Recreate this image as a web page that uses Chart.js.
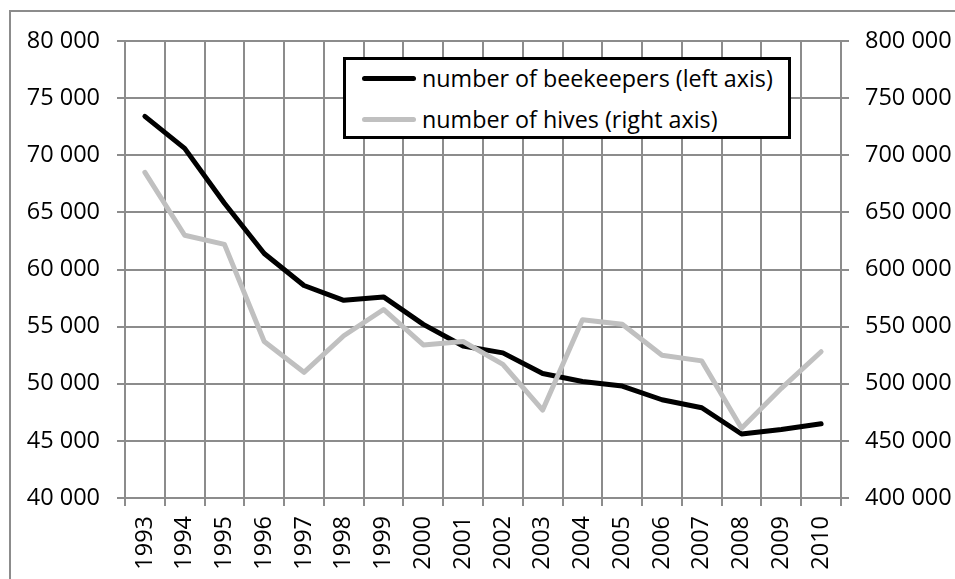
<!DOCTYPE html>
<html>
<head>
<meta charset="utf-8">
<script src="https://cdn.jsdelivr.net/npm/chart.js@4"></script>
<style>
    html, body { margin: 0; padding: 0; background: #fff; overflow: hidden; }
    #wrap { position: relative; width: 955px; height: 579px; }
    #frame {
        position: absolute; left: 9px; top: 10px; width: 980px; height: 600px;
        border: 2px solid #8c8c8c; box-sizing: border-box;
    }
    #chart { position: absolute; left: 0; top: 0; }
    #legend {
        position: absolute; left: 343px; top: 57px; width: 448px; height: 82px;
        border: 3px solid #000; box-sizing: border-box; background: #fff;
        font-family: "Open Sans", sans-serif; font-size: 23.3px; color: #000;
    }
    .row { position: absolute; left: 0; height: 30px; display: flex; align-items: center; white-space: nowrap; }
    .swatch { width: 54px; height: 5px; border-radius: 3px; margin-left: 16px; margin-right: 6px; }
</style>
</head>
<body>
<div id="wrap">
    <div id="frame"></div>
    <canvas id="chart" width="955" height="579"></canvas>
    <div id="legend">
        <div class="row" style="top: 3px;"><span class="swatch" style="background:#000"></span>number of beekeepers (left axis)</div>
        <div class="row" style="top: 44px;"><span class="swatch" style="background:#c0c0c0"></span>number of hives (right axis)</div>
    </div>
</div>
<script>
/* ---- DATA ---- */
const years = ['1993', '1994', '1995', '1996', '1997', '1998', '1999', '2000', '2001',
               '2002', '2003', '2004', '2005', '2006', '2007', '2008', '2009', '2010'];

const beekeepers = [73400, 70600, 65800, 61400, 58600, 57300, 57600, 55200, 53300,
                    52700, 50900, 50200, 49800, 48600, 47900, 45600, 46000, 46500];

const hives = [685000, 630000, 622000, 537000, 510000, 542000, 565000, 534000, 537000,
               517000, 477000, 556000, 552000, 525000, 520000, 461000, 496000, 528000];

const leftTicks = [40000, 45000, 50000, 55000, 60000, 65000, 70000, 75000, 80000];
const rightTicks = [400000, 450000, 500000, 550000, 600000, 650000, 700000, 750000, 800000];

const GRID = '#8c8c8c';
const FONT = { family: '"Open Sans", sans-serif', size: 23.5 };

function formatNum(v) {
    return String(v).replace(/\B(?=(\d{3})+(?!\d))/g, ' ');
}

/* ---- CHART ---- */
new Chart(document.getElementById('chart'), {
    type: 'line',
    data: {
        labels: years,
        datasets: [
            {
                label: 'number of hives (right axis)',
                data: hives,
                yAxisID: 'yR',
                borderColor: '#c0c0c0',
                borderWidth: 5,
                pointRadius: 0,
                tension: 0,
                borderCapStyle: 'round',
                borderJoinStyle: 'round'
            },
            {
                label: 'number of beekeepers (left axis)',
                data: beekeepers,
                yAxisID: 'yL',
                borderColor: '#000',
                borderWidth: 5,
                pointRadius: 0,
                tension: 0,
                borderCapStyle: 'round',
                borderJoinStyle: 'round'
            }
        ]
    },
    options: {
        responsive: false,
        animation: false,
        layout: { padding: { top: 41, left: 0, right: 0, bottom: 0 } },
        plugins: {
            legend: { display: false },
            tooltip: { enabled: false }
        },
        scales: {
            x: {
                offset: true,
                grid: { offset: true, color: GRID, lineWidth: 2, tickLength: 8 },
                border: { color: GRID, width: 2 },
                ticks: { color: '#000', font: FONT, maxRotation: 90, minRotation: 90, padding: 10, autoSkip: false },
                afterFit: s => { s.height = 81; }
            },
            yL: {
                position: 'left',
                min: 40000, max: 80000,
                afterBuildTicks: s => { s.ticks = leftTicks.map(v => ({ value: v })); },
                grid: { color: GRID, lineWidth: 2, tickLength: 8 },
                border: { color: GRID, width: 2 },
                ticks: { color: '#000', font: FONT, padding: 17, callback: v => formatNum(v) },
                afterFit: s => { s.width = 125; }
            },
            yR: {
                position: 'right',
                min: 400000, max: 800000,
                afterBuildTicks: s => { s.ticks = rightTicks.map(v => ({ value: v })); },
                grid: { drawOnChartArea: false, color: GRID, lineWidth: 2, tickLength: 8 },
                border: { color: GRID, width: 2 },
                ticks: { color: '#000', font: FONT, padding: 16, callback: v => formatNum(v) },
                afterFit: s => { s.width = 114; }
            }
        }
    }
});
</script>
</body>
</html>
